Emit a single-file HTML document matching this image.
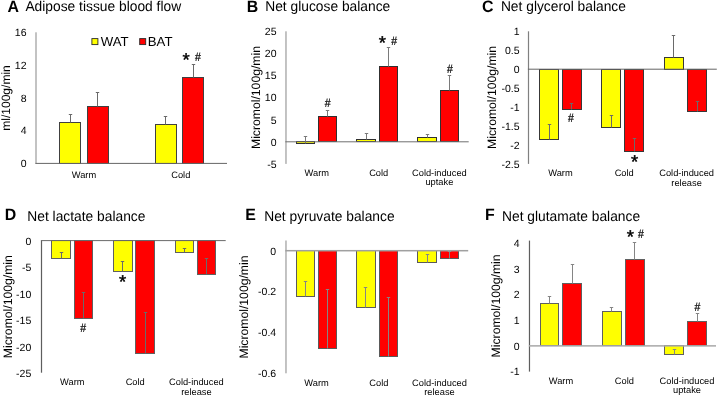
<!DOCTYPE html>
<html><head><meta charset="utf-8"><style>
html,body{margin:0;padding:0;background:#fff;}
svg{display:block;will-change:transform;}
text{font-family:"Liberation Sans", sans-serif;text-rendering:geometricPrecision;}
</style></head><body>
<svg width="718" height="397" viewBox="0 0 718 397">
<rect width="718" height="397" fill="#fff"/>
<text transform="translate(7.40 12.45) scale(1 1.04)" x="0" y="0" font-size="15.9" text-anchor="start" font-weight="bold" fill="#000" >A</text>
<text transform="translate(25.40 10.90) scale(1 1.03)" x="0" y="0" font-size="13.8" text-anchor="start" font-weight="normal" fill="#000" >Adipose tissue blood flow</text>
<text x="10.10" y="98.00" font-size="12.05" text-anchor="middle" font-weight="normal" fill="#000" transform="rotate(-90 10.1 98)">ml/100g/min</text>
<text x="26.50" y="167.20" font-size="10.5" text-anchor="end" font-weight="normal" fill="#000" >0</text>
<text x="26.50" y="134.43" font-size="10.5" text-anchor="end" font-weight="normal" fill="#000" >4</text>
<text x="26.50" y="101.65" font-size="10.5" text-anchor="end" font-weight="normal" fill="#000" >8</text>
<text x="26.50" y="68.87" font-size="10.5" text-anchor="end" font-weight="normal" fill="#000" >12</text>
<text x="26.50" y="36.10" font-size="10.5" text-anchor="end" font-weight="normal" fill="#000" >16</text>
<rect x="59.50" y="122.50" width="21.00" height="41.00" fill="#FFFF00" stroke="#404040" stroke-width="1"/>
<line x1="70.50" y1="122.50" x2="70.50" y2="114.50" stroke="#6a6a6a" stroke-width="1"/>
<line x1="68.80" y1="114.50" x2="72.20" y2="114.50" stroke="#6a6a6a" stroke-width="1"/>
<rect x="87.50" y="106.50" width="21.00" height="57.00" fill="#FF0000" stroke="#404040" stroke-width="1"/>
<line x1="97.50" y1="106.50" x2="97.50" y2="92.50" stroke="#6a6a6a" stroke-width="1"/>
<line x1="95.80" y1="92.50" x2="99.20" y2="92.50" stroke="#6a6a6a" stroke-width="1"/>
<rect x="155.50" y="124.50" width="21.00" height="39.00" fill="#FFFF00" stroke="#404040" stroke-width="1"/>
<line x1="165.50" y1="124.50" x2="165.50" y2="116.50" stroke="#6a6a6a" stroke-width="1"/>
<line x1="163.80" y1="116.50" x2="167.20" y2="116.50" stroke="#6a6a6a" stroke-width="1"/>
<rect x="182.50" y="77.50" width="21.00" height="86.00" fill="#FF0000" stroke="#404040" stroke-width="1"/>
<line x1="193.50" y1="77.50" x2="193.50" y2="64.50" stroke="#6a6a6a" stroke-width="1"/>
<line x1="191.80" y1="64.50" x2="195.20" y2="64.50" stroke="#6a6a6a" stroke-width="1"/>
<rect x="35.35" y="32.30" width="1.3" height="131.10" fill="#a4a4a4"/>
<rect x="35.35" y="162.90" width="191.65" height="1.0" fill="#666666"/>
<text x="84.00" y="177.70" font-size="9.3" text-anchor="middle" font-weight="normal" fill="#000" >Warm</text>
<text x="180.80" y="177.70" font-size="9.3" text-anchor="middle" font-weight="normal" fill="#000" >Cold</text>
<text x="186.10" y="66.49" font-size="18.5" text-anchor="middle" font-weight="normal" fill="#000" stroke="#000" stroke-width="0.45">*</text>
<text transform="translate(198.00 60.91) scale(1 1.15)" x="0" y="0" font-size="10.5" text-anchor="middle" font-weight="normal" fill="#000" stroke="#000" stroke-width="0.2">#</text>
<text transform="translate(246.80 12.45) scale(1 1.04)" x="0" y="0" font-size="15.9" text-anchor="start" font-weight="bold" fill="#000" >B</text>
<text transform="translate(265.20 11.00) scale(1 1.03)" x="0" y="0" font-size="13.8" text-anchor="start" font-weight="normal" fill="#000" >Net glucose balance</text>
<text x="259.80" y="97.50" font-size="12.2" text-anchor="middle" font-weight="normal" fill="#000" transform="rotate(-90 259.8 97.5)">Micromol/100g/min</text>
<text x="276.50" y="167.70" font-size="10.5" text-anchor="end" font-weight="normal" fill="#000" >-5</text>
<text x="276.50" y="145.60" font-size="10.5" text-anchor="end" font-weight="normal" fill="#000" >0</text>
<text x="276.50" y="123.50" font-size="10.5" text-anchor="end" font-weight="normal" fill="#000" >5</text>
<text x="276.50" y="101.40" font-size="10.5" text-anchor="end" font-weight="normal" fill="#000" >10</text>
<text x="276.50" y="79.30" font-size="10.5" text-anchor="end" font-weight="normal" fill="#000" >15</text>
<text x="276.50" y="57.20" font-size="10.5" text-anchor="end" font-weight="normal" fill="#000" >20</text>
<text x="276.50" y="35.10" font-size="10.5" text-anchor="end" font-weight="normal" fill="#000" >25</text>
<rect x="296.50" y="141.50" width="18.00" height="2.00" fill="#FFFF00" stroke="#303030" stroke-width="1"/>
<line x1="305.50" y1="143.50" x2="305.50" y2="136.50" stroke="#7a7a7a" stroke-width="1"/>
<line x1="303.80" y1="136.50" x2="307.20" y2="136.50" stroke="#7a7a7a" stroke-width="1"/>
<rect x="318.50" y="116.50" width="18.00" height="25.00" fill="#FF0000" stroke="#303030" stroke-width="1"/>
<line x1="327.50" y1="116.50" x2="327.50" y2="110.50" stroke="#7a7a7a" stroke-width="1"/>
<line x1="325.80" y1="110.50" x2="329.20" y2="110.50" stroke="#7a7a7a" stroke-width="1"/>
<rect x="356.50" y="139.50" width="19.00" height="2.00" fill="#FFFF00" stroke="#303030" stroke-width="1"/>
<line x1="366.50" y1="139.50" x2="366.50" y2="133.50" stroke="#7a7a7a" stroke-width="1"/>
<line x1="364.80" y1="133.50" x2="368.20" y2="133.50" stroke="#7a7a7a" stroke-width="1"/>
<rect x="379.50" y="66.50" width="18.00" height="75.00" fill="#FF0000" stroke="#303030" stroke-width="1"/>
<line x1="388.50" y1="66.50" x2="388.50" y2="47.50" stroke="#7a7a7a" stroke-width="1"/>
<line x1="386.80" y1="47.50" x2="390.20" y2="47.50" stroke="#7a7a7a" stroke-width="1"/>
<rect x="417.50" y="137.50" width="19.00" height="4.00" fill="#FFFF00" stroke="#303030" stroke-width="1"/>
<line x1="427.50" y1="137.50" x2="427.50" y2="134.50" stroke="#7a7a7a" stroke-width="1"/>
<line x1="425.80" y1="134.50" x2="429.20" y2="134.50" stroke="#7a7a7a" stroke-width="1"/>
<rect x="440.50" y="90.50" width="18.00" height="51.00" fill="#FF0000" stroke="#303030" stroke-width="1"/>
<line x1="449.50" y1="90.50" x2="449.50" y2="75.50" stroke="#7a7a7a" stroke-width="1"/>
<line x1="447.80" y1="75.50" x2="451.20" y2="75.50" stroke="#7a7a7a" stroke-width="1"/>
<rect x="285.33" y="31.30" width="1.3" height="132.60" fill="#a4a4a4"/>
<rect x="285.33" y="141.30" width="183.37" height="1.0" fill="#707070"/>
<text x="316.80" y="175.50" font-size="9.3" text-anchor="middle" font-weight="normal" fill="#000" >Warm</text>
<text x="378.70" y="175.50" font-size="9.3" text-anchor="middle" font-weight="normal" fill="#000" >Cold</text>
<text x="439.40" y="175.50" font-size="9.3" text-anchor="middle" font-weight="normal" fill="#000" >Cold-induced</text>
<text x="439.40" y="185.00" font-size="9.3" text-anchor="middle" font-weight="normal" fill="#000" >uptake</text>
<text transform="translate(327.60 106.71) scale(1 1.15)" x="0" y="0" font-size="10.5" text-anchor="middle" font-weight="normal" fill="#000" stroke="#000" stroke-width="0.2">#</text>
<text x="382.40" y="49.09" font-size="18.5" text-anchor="middle" font-weight="normal" fill="#000" stroke="#000" stroke-width="0.45">*</text>
<text transform="translate(394.10 44.61) scale(1 1.15)" x="0" y="0" font-size="10.5" text-anchor="middle" font-weight="normal" fill="#000" stroke="#000" stroke-width="0.2">#</text>
<text transform="translate(450.00 73.01) scale(1 1.15)" x="0" y="0" font-size="10.5" text-anchor="middle" font-weight="normal" fill="#000" stroke="#000" stroke-width="0.2">#</text>
<text transform="translate(482.00 12.45) scale(1 1.04)" x="0" y="0" font-size="15.9" text-anchor="start" font-weight="bold" fill="#000" >C</text>
<text transform="translate(500.90 10.90) scale(1 1.03)" x="0" y="0" font-size="13.8" text-anchor="start" font-weight="normal" fill="#000" >Net glycerol balance</text>
<text x="496.20" y="97.40" font-size="12.2" text-anchor="middle" font-weight="normal" fill="#000" transform="rotate(-90 496.2 97.4)">Micromol/100g/min</text>
<text x="519.50" y="35.10" font-size="10.5" text-anchor="end" font-weight="normal" fill="#000" >1</text>
<text x="519.50" y="54.04" font-size="10.5" text-anchor="end" font-weight="normal" fill="#000" >0.5</text>
<text x="519.50" y="72.99" font-size="10.5" text-anchor="end" font-weight="normal" fill="#000" >0</text>
<text x="519.50" y="91.93" font-size="10.5" text-anchor="end" font-weight="normal" fill="#000" >-0.5</text>
<text x="519.50" y="110.87" font-size="10.5" text-anchor="end" font-weight="normal" fill="#000" >-1</text>
<text x="519.50" y="129.81" font-size="10.5" text-anchor="end" font-weight="normal" fill="#000" >-1.5</text>
<text x="519.50" y="148.76" font-size="10.5" text-anchor="end" font-weight="normal" fill="#000" >-2</text>
<text x="519.50" y="167.70" font-size="10.5" text-anchor="end" font-weight="normal" fill="#000" >-2.5</text>
<rect x="539.50" y="69.50" width="19.00" height="70.00" fill="#FFFF00" stroke="#383838" stroke-width="1"/>
<line x1="549.50" y1="139.50" x2="549.50" y2="124.50" stroke="#6a6a6a" stroke-width="1"/>
<line x1="547.80" y1="124.50" x2="551.20" y2="124.50" stroke="#6a6a6a" stroke-width="1"/>
<rect x="562.50" y="69.50" width="19.00" height="40.00" fill="#FF0000" stroke="#383838" stroke-width="1"/>
<line x1="571.50" y1="109.50" x2="571.50" y2="103.50" stroke="#6a6a6a" stroke-width="1"/>
<line x1="569.80" y1="103.50" x2="573.20" y2="103.50" stroke="#6a6a6a" stroke-width="1"/>
<rect x="601.50" y="69.50" width="19.00" height="58.00" fill="#FFFF00" stroke="#383838" stroke-width="1"/>
<line x1="611.50" y1="127.50" x2="611.50" y2="115.50" stroke="#6a6a6a" stroke-width="1"/>
<line x1="609.80" y1="115.50" x2="613.20" y2="115.50" stroke="#6a6a6a" stroke-width="1"/>
<rect x="624.50" y="69.50" width="19.00" height="82.00" fill="#FF0000" stroke="#383838" stroke-width="1"/>
<line x1="634.50" y1="151.50" x2="634.50" y2="138.50" stroke="#6a6a6a" stroke-width="1"/>
<line x1="632.80" y1="138.50" x2="636.20" y2="138.50" stroke="#6a6a6a" stroke-width="1"/>
<rect x="664.50" y="57.50" width="19.00" height="12.00" fill="#FFFF00" stroke="#383838" stroke-width="1"/>
<line x1="673.50" y1="57.50" x2="673.50" y2="35.50" stroke="#6a6a6a" stroke-width="1"/>
<line x1="671.80" y1="35.50" x2="675.20" y2="35.50" stroke="#6a6a6a" stroke-width="1"/>
<rect x="687.50" y="69.50" width="19.00" height="42.00" fill="#FF0000" stroke="#383838" stroke-width="1"/>
<line x1="697.50" y1="111.50" x2="697.50" y2="101.50" stroke="#6a6a6a" stroke-width="1"/>
<line x1="695.80" y1="101.50" x2="699.20" y2="101.50" stroke="#6a6a6a" stroke-width="1"/>
<rect x="527.90" y="31.30" width="1.2" height="132.60" fill="#808080"/>
<rect x="527.90" y="68.69" width="188.90" height="1.0" fill="#666666"/>
<text x="560.50" y="176.20" font-size="9.3" text-anchor="middle" font-weight="normal" fill="#000" >Warm</text>
<text x="624.20" y="176.20" font-size="9.3" text-anchor="middle" font-weight="normal" fill="#000" >Cold</text>
<text x="686.60" y="176.20" font-size="9.3" text-anchor="middle" font-weight="normal" fill="#000" >Cold-induced</text>
<text x="686.60" y="185.70" font-size="9.3" text-anchor="middle" font-weight="normal" fill="#000" >release</text>
<text transform="translate(571.00 122.01) scale(1 1.15)" x="0" y="0" font-size="10.5" text-anchor="middle" font-weight="normal" fill="#000" stroke="#000" stroke-width="0.2">#</text>
<text x="634.60" y="168.39" font-size="18.5" text-anchor="middle" font-weight="normal" fill="#000" stroke="#000" stroke-width="0.45">*</text>
<text transform="translate(4.80 220.00) scale(1 1.04)" x="0" y="0" font-size="15.9" text-anchor="start" font-weight="bold" fill="#000" >D</text>
<text transform="translate(27.30 220.80) scale(1 1.03)" x="0" y="0" font-size="13.8" text-anchor="start" font-weight="normal" fill="#000" >Net lactate balance</text>
<text x="11.90" y="306.70" font-size="12.2" text-anchor="middle" font-weight="normal" fill="#000" transform="rotate(-90 11.9 306.7)">Micromol/100g/min</text>
<text x="31.30" y="377.00" font-size="10.5" text-anchor="end" font-weight="normal" fill="#000" >-25</text>
<text x="31.30" y="350.58" font-size="10.5" text-anchor="end" font-weight="normal" fill="#000" >-20</text>
<text x="31.30" y="324.16" font-size="10.5" text-anchor="end" font-weight="normal" fill="#000" >-15</text>
<text x="31.30" y="297.74" font-size="10.5" text-anchor="end" font-weight="normal" fill="#000" >-10</text>
<text x="31.30" y="271.32" font-size="10.5" text-anchor="end" font-weight="normal" fill="#000" >-5</text>
<text x="31.30" y="244.90" font-size="10.5" text-anchor="end" font-weight="normal" fill="#000" >0</text>
<rect x="51.50" y="240.50" width="19.00" height="18.00" fill="#FFFF00" stroke="#606060" stroke-width="1"/>
<line x1="61.50" y1="258.50" x2="61.50" y2="252.50" stroke="#6a6a6a" stroke-width="1"/>
<line x1="59.80" y1="252.50" x2="63.20" y2="252.50" stroke="#6a6a6a" stroke-width="1"/>
<rect x="74.50" y="240.50" width="18.00" height="78.00" fill="#FF0000" stroke="#606060" stroke-width="1"/>
<line x1="83.50" y1="318.50" x2="83.50" y2="292.50" stroke="#6a6a6a" stroke-width="1"/>
<line x1="81.80" y1="292.50" x2="85.20" y2="292.50" stroke="#6a6a6a" stroke-width="1"/>
<rect x="113.50" y="240.50" width="19.00" height="31.00" fill="#FFFF00" stroke="#606060" stroke-width="1"/>
<line x1="122.50" y1="271.50" x2="122.50" y2="261.50" stroke="#6a6a6a" stroke-width="1"/>
<line x1="120.80" y1="261.50" x2="124.20" y2="261.50" stroke="#6a6a6a" stroke-width="1"/>
<rect x="135.50" y="240.50" width="19.00" height="113.00" fill="#FF0000" stroke="#606060" stroke-width="1"/>
<line x1="145.50" y1="353.50" x2="145.50" y2="312.50" stroke="#6a6a6a" stroke-width="1"/>
<line x1="143.80" y1="312.50" x2="147.20" y2="312.50" stroke="#6a6a6a" stroke-width="1"/>
<rect x="175.50" y="240.50" width="18.00" height="12.00" fill="#FFFF00" stroke="#606060" stroke-width="1"/>
<line x1="184.50" y1="252.50" x2="184.50" y2="248.50" stroke="#6a6a6a" stroke-width="1"/>
<line x1="182.80" y1="248.50" x2="186.20" y2="248.50" stroke="#6a6a6a" stroke-width="1"/>
<rect x="197.50" y="240.50" width="18.00" height="34.00" fill="#FF0000" stroke="#606060" stroke-width="1"/>
<line x1="206.50" y1="274.50" x2="206.50" y2="258.50" stroke="#6a6a6a" stroke-width="1"/>
<line x1="204.80" y1="258.50" x2="208.20" y2="258.50" stroke="#6a6a6a" stroke-width="1"/>
<rect x="40.90" y="240.60" width="1.2" height="132.10" fill="#5e5e5e"/>
<rect x="40.90" y="240.10" width="184.80" height="1.0" fill="#6a6a6a"/>
<text x="72.30" y="385.40" font-size="9.3" text-anchor="middle" font-weight="normal" fill="#000" >Warm</text>
<text x="135.20" y="385.40" font-size="9.3" text-anchor="middle" font-weight="normal" fill="#000" >Cold</text>
<text x="196.40" y="385.40" font-size="9.3" text-anchor="middle" font-weight="normal" fill="#000" >Cold-induced</text>
<text x="196.40" y="394.90" font-size="9.3" text-anchor="middle" font-weight="normal" fill="#000" >release</text>
<text transform="translate(83.20 331.51) scale(1 1.15)" x="0" y="0" font-size="10.5" text-anchor="middle" font-weight="normal" fill="#000" stroke="#000" stroke-width="0.2">#</text>
<text x="122.60" y="288.49" font-size="18.5" text-anchor="middle" font-weight="normal" fill="#000" stroke="#000" stroke-width="0.45">*</text>
<text transform="translate(245.30 220.20) scale(1 1.04)" x="0" y="0" font-size="15.9" text-anchor="start" font-weight="bold" fill="#000" >E</text>
<text transform="translate(264.20 220.90) scale(1 1.03)" x="0" y="0" font-size="13.8" text-anchor="start" font-weight="normal" fill="#000" >Net pyruvate balance</text>
<text x="247.60" y="307.00" font-size="12.2" text-anchor="middle" font-weight="normal" fill="#000" transform="rotate(-90 247.6 307)">Micromol/100g/min</text>
<text x="276.20" y="254.50" font-size="10.5" text-anchor="end" font-weight="normal" fill="#000" >0</text>
<text x="276.20" y="295.37" font-size="10.5" text-anchor="end" font-weight="normal" fill="#000" >-0.2</text>
<text x="276.20" y="336.23" font-size="10.5" text-anchor="end" font-weight="normal" fill="#000" >-0.4</text>
<text x="276.20" y="377.10" font-size="10.5" text-anchor="end" font-weight="normal" fill="#000" >-0.6</text>
<rect x="296.50" y="250.50" width="18.00" height="46.00" fill="#FFFF00" stroke="#5a5a5a" stroke-width="1"/>
<line x1="305.50" y1="296.50" x2="305.50" y2="281.50" stroke="#858585" stroke-width="1"/>
<line x1="303.80" y1="281.50" x2="307.20" y2="281.50" stroke="#858585" stroke-width="1"/>
<rect x="318.50" y="250.50" width="18.00" height="98.00" fill="#FF0000" stroke="#5a5a5a" stroke-width="1"/>
<line x1="327.50" y1="348.50" x2="327.50" y2="289.50" stroke="#858585" stroke-width="1"/>
<line x1="325.80" y1="289.50" x2="329.20" y2="289.50" stroke="#858585" stroke-width="1"/>
<rect x="356.50" y="250.50" width="19.00" height="57.00" fill="#FFFF00" stroke="#5a5a5a" stroke-width="1"/>
<line x1="365.50" y1="307.50" x2="365.50" y2="287.50" stroke="#858585" stroke-width="1"/>
<line x1="363.80" y1="287.50" x2="367.20" y2="287.50" stroke="#858585" stroke-width="1"/>
<rect x="379.50" y="250.50" width="18.00" height="106.00" fill="#FF0000" stroke="#5a5a5a" stroke-width="1"/>
<line x1="388.50" y1="356.50" x2="388.50" y2="297.50" stroke="#858585" stroke-width="1"/>
<line x1="386.80" y1="297.50" x2="390.20" y2="297.50" stroke="#858585" stroke-width="1"/>
<rect x="417.50" y="250.50" width="19.00" height="12.00" fill="#FFFF00" stroke="#5a5a5a" stroke-width="1"/>
<line x1="427.50" y1="262.50" x2="427.50" y2="254.50" stroke="#858585" stroke-width="1"/>
<line x1="425.80" y1="254.50" x2="429.20" y2="254.50" stroke="#858585" stroke-width="1"/>
<rect x="440.50" y="250.50" width="18.00" height="8.00" fill="#FF0000" stroke="#5a5a5a" stroke-width="1"/>
<line x1="449.50" y1="258.50" x2="449.50" y2="251.50" stroke="#858585" stroke-width="1"/>
<line x1="447.80" y1="251.50" x2="451.20" y2="251.50" stroke="#858585" stroke-width="1"/>
<rect x="285.33" y="240.50" width="1.3" height="132.80" fill="#a4a4a4"/>
<rect x="285.33" y="249.95" width="182.87" height="1.5" fill="#a0a0a0"/>
<text x="316.60" y="385.60" font-size="9.3" text-anchor="middle" font-weight="normal" fill="#000" >Warm</text>
<text x="378.90" y="385.60" font-size="9.3" text-anchor="middle" font-weight="normal" fill="#000" >Cold</text>
<text x="439.50" y="385.60" font-size="9.3" text-anchor="middle" font-weight="normal" fill="#000" >Cold-induced</text>
<text x="439.50" y="395.10" font-size="9.3" text-anchor="middle" font-weight="normal" fill="#000" >release</text>
<text transform="translate(485.00 219.90) scale(1 1.04)" x="0" y="0" font-size="15.9" text-anchor="start" font-weight="bold" fill="#000" >F</text>
<text transform="translate(502.00 220.90) scale(1 1.03)" x="0" y="0" font-size="13.8" text-anchor="start" font-weight="normal" fill="#000" >Net glutamate balance</text>
<text x="500.40" y="305.90" font-size="12.2" text-anchor="middle" font-weight="normal" fill="#000" transform="rotate(-90 500.4 305.9)">Micromol/100g/min</text>
<text x="519.60" y="375.40" font-size="10.5" text-anchor="end" font-weight="normal" fill="#000" >-1</text>
<text x="519.60" y="349.68" font-size="10.5" text-anchor="end" font-weight="normal" fill="#000" >0</text>
<text x="519.60" y="323.96" font-size="10.5" text-anchor="end" font-weight="normal" fill="#000" >1</text>
<text x="519.60" y="298.24" font-size="10.5" text-anchor="end" font-weight="normal" fill="#000" >2</text>
<text x="519.60" y="272.52" font-size="10.5" text-anchor="end" font-weight="normal" fill="#000" >3</text>
<text x="519.60" y="246.80" font-size="10.5" text-anchor="end" font-weight="normal" fill="#000" >4</text>
<rect x="540.50" y="303.50" width="18.00" height="42.00" fill="#FFFF00" stroke="#606060" stroke-width="1"/>
<line x1="549.50" y1="303.50" x2="549.50" y2="296.50" stroke="#858585" stroke-width="1"/>
<line x1="547.80" y1="296.50" x2="551.20" y2="296.50" stroke="#858585" stroke-width="1"/>
<rect x="562.50" y="283.50" width="19.00" height="62.00" fill="#FF0000" stroke="#606060" stroke-width="1"/>
<line x1="572.50" y1="283.50" x2="572.50" y2="264.50" stroke="#858585" stroke-width="1"/>
<line x1="570.80" y1="264.50" x2="574.20" y2="264.50" stroke="#858585" stroke-width="1"/>
<rect x="602.50" y="311.50" width="19.00" height="34.00" fill="#FFFF00" stroke="#606060" stroke-width="1"/>
<line x1="611.50" y1="311.50" x2="611.50" y2="307.50" stroke="#858585" stroke-width="1"/>
<line x1="609.80" y1="307.50" x2="613.20" y2="307.50" stroke="#858585" stroke-width="1"/>
<rect x="625.50" y="259.50" width="19.00" height="86.00" fill="#FF0000" stroke="#606060" stroke-width="1"/>
<line x1="634.50" y1="259.50" x2="634.50" y2="242.50" stroke="#858585" stroke-width="1"/>
<line x1="632.80" y1="242.50" x2="636.20" y2="242.50" stroke="#858585" stroke-width="1"/>
<rect x="664.50" y="345.50" width="19.00" height="9.00" fill="#FFFF00" stroke="#606060" stroke-width="1"/>
<line x1="674.50" y1="354.50" x2="674.50" y2="349.50" stroke="#858585" stroke-width="1"/>
<line x1="672.80" y1="349.50" x2="676.20" y2="349.50" stroke="#858585" stroke-width="1"/>
<rect x="687.50" y="321.50" width="19.00" height="24.00" fill="#FF0000" stroke="#606060" stroke-width="1"/>
<line x1="697.50" y1="321.50" x2="697.50" y2="313.50" stroke="#858585" stroke-width="1"/>
<line x1="695.80" y1="313.50" x2="699.20" y2="313.50" stroke="#858585" stroke-width="1"/>
<rect x="528.88" y="240.60" width="1.2" height="131.00" fill="#5e5e5e"/>
<rect x="528.88" y="345.13" width="187.12" height="1.5" fill="#a8a8a8"/>
<text x="561.00" y="383.90" font-size="9.3" text-anchor="middle" font-weight="normal" fill="#000" >Warm</text>
<text x="624.40" y="383.90" font-size="9.3" text-anchor="middle" font-weight="normal" fill="#000" >Cold</text>
<text x="687.00" y="383.90" font-size="9.3" text-anchor="middle" font-weight="normal" fill="#000" >Cold-induced</text>
<text x="687.00" y="393.40" font-size="9.3" text-anchor="middle" font-weight="normal" fill="#000" >uptake</text>
<text x="630.40" y="243.19" font-size="18.5" text-anchor="middle" font-weight="normal" fill="#000" stroke="#000" stroke-width="0.45">*</text>
<text transform="translate(641.00 238.31) scale(1 1.15)" x="0" y="0" font-size="10.5" text-anchor="middle" font-weight="normal" fill="#000" stroke="#000" stroke-width="0.2">#</text>
<text transform="translate(697.40 310.81) scale(1 1.15)" x="0" y="0" font-size="10.5" text-anchor="middle" font-weight="normal" fill="#000" stroke="#000" stroke-width="0.2">#</text>
<rect x="91.9" y="38.6" width="6" height="6" fill="#FFFF00" stroke="#2a2a2a" stroke-width="0.9"/>
<text x="100.70" y="45.50" font-size="13.2" text-anchor="start" font-weight="normal" fill="#000" >WAT</text>
<rect x="139.7" y="38.6" width="6" height="6" fill="#FF0000" stroke="#2a2a2a" stroke-width="0.9"/>
<text x="147.80" y="45.50" font-size="13.2" text-anchor="start" font-weight="normal" fill="#000" >BAT</text>
</svg></body></html>
